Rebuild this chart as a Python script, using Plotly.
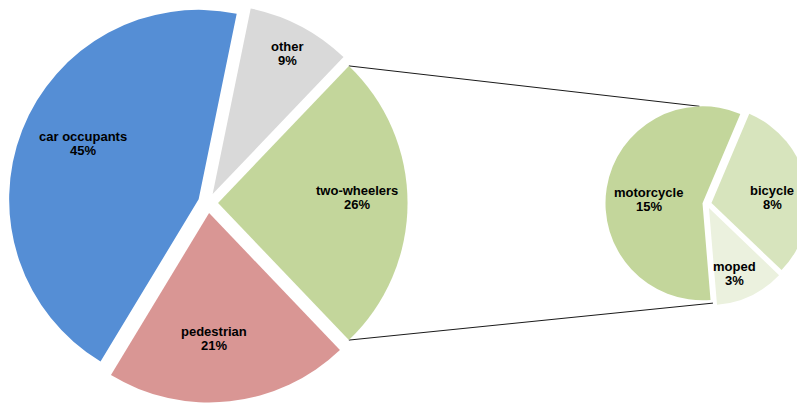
import math
import plotly.graph_objects as go

# ---- data ----
main_labels = ["other", "two-wheelers", "pedestrian", "car occupants"]
main_values = [9, 26, 21, 45]
main_text = ["9%", "26%", "21%", "45%"]
main_colors = ["#D9D9D9", "#C3D69B", "#D99694", "#558ED5"]

sub_labels = ["motorcycle", "bicycle", "moped"]
sub_values = [15, 8, 3]
sub_text = ["15%", "8%", "3%"]
sub_colors = ["#C3D69B", "#D7E4BD", "#EBF1DE"]

# ---- style / layout ----
W, H = 830, 403          # figure is wider than the 797 px window; the right edge is cropped like the original
main_center = (208.0, 203.0)
main_R = 189.5
main_pull = 0.053
main_label_frac = [0.84, 0.73, 0.66, 0.68]
main_label_nudge = [(1, 0), (1, -6), (-9, 1), (4, -9)]

sub_center = (707.0, 204.0)
sub_R = 97.0
sub_pull = 0.047
sub_rotation = 175.25
sub_label_frac = [0.56, 0.62, 0.73]
sub_label_nudge = [(0, 5), (2, 7), (-5, 1)]

FONT = "Arial, Liberation Sans, sans-serif"


def clamp(v):
    return max(0.0, min(1.0, v))


def domain_for(center, R, pull):
    cx, cy = center
    half = R * (1 + pull)
    dx = [clamp((cx - half) / W), clamp((cx + half) / W)]
    dy = [clamp(1 - (cy + half) / H), clamp(1 - (cy - half) / H)]
    return dx, dy


def actual_geom(dx, dy, pull):
    w = (dx[1] - dx[0]) * W
    h = (dy[1] - dy[0]) * H
    cx = (dx[0] + dx[1]) / 2 * W
    cy = (1 - (dy[0] + dy[1]) / 2) * H
    R = min(w, h) / (2 + 2 * pull)
    return (cx, cy), R


def slices(values, rotation):
    total = float(sum(values))
    a = rotation
    out = []
    for v in values:
        span = v / total * 360.0
        out.append((a, a + span / 2, a + span))
        a += span
    return out


def dvec(theta):
    t = math.radians(theta)
    return math.sin(t), -math.cos(t)


def to_paper(px, py):
    return px / W, 1 - py / H


# main rotation: two-wheelers centred pointing right (90 deg clockwise from north)
tot = float(sum(main_values))
main_rotation = 90.0 - (main_values[0] + main_values[1] / 2.0) / tot * 360.0

mdx, mdy = domain_for(main_center, main_R, main_pull)
sdx, sdy = domain_for(sub_center, sub_R, sub_pull)
(mcx, mcy), mR = actual_geom(mdx, mdy, main_pull)
(scx, scy), sR = actual_geom(sdx, sdy, sub_pull)

fig = go.Figure()
fig.add_trace(go.Pie(
    labels=main_labels, values=main_values, text=main_text,
    sort=False, direction="clockwise", rotation=main_rotation,
    pull=[main_pull] * len(main_values),
    marker=dict(colors=main_colors, line=dict(width=0)),
    textinfo="none", hoverinfo="label+text", showlegend=False,
    domain=dict(x=mdx, y=mdy),
))
fig.add_trace(go.Pie(
    labels=sub_labels, values=sub_values, text=sub_text,
    sort=False, direction="clockwise", rotation=sub_rotation,
    pull=[sub_pull] * len(sub_values),
    marker=dict(colors=sub_colors, line=dict(width=0)),
    textinfo="none", hoverinfo="label+text", showlegend=False,
    domain=dict(x=sdx, y=sdy),
))

annotations = []
shapes = []


def add_labels(center, R, pull, values, rotation, labels, texts, fracs, nudges):
    cx, cy = center
    geo = slices(values, rotation)
    centers = []
    for (a0, am, a1), lab, txt, f, (nx, ny) in zip(geo, labels, texts, fracs, nudges):
        ux, uy = dvec(am)
        sx, sy = cx + pull * R * ux, cy + pull * R * uy
        centers.append((sx, sy))
        lx, ly = sx + f * R * ux + nx, sy + f * R * uy + ny
        for s, off in ((lab, -7), (txt, 7)):
            x, y = to_paper(lx, ly + off)
            annotations.append(dict(
                x=x, y=y, xref="paper", yref="paper", text="<b>%s</b>" % s,
                showarrow=False, xanchor="center", yanchor="middle",
                font=dict(family=FONT, size=13, color="#000000"),
            ))
    return geo, centers


mgeo, mcent = add_labels((mcx, mcy), mR, main_pull, main_values, main_rotation,
                         main_labels, main_text, main_label_frac, main_label_nudge)
sgeo, scent = add_labels((scx, scy), sR, sub_pull, sub_values, sub_rotation,
                         sub_labels, sub_text, sub_label_frac, sub_label_nudge)

# connector lines from two-wheelers slice to the secondary pie
gi = main_labels.index("two-wheelers")
gx, gy = mcent[gi]
a0, am, a1 = mgeo[gi]
p_top = (gx + mR * dvec(a0)[0], gy + mR * dvec(a0)[1])
p_bot = (gx + mR * dvec(a1)[0], gy + mR * dvec(a1)[1])
q_top = (scent[0][0] - 3, scent[0][1] - sR)
q_bot = (scent[-1][0] + 4, scent[-1][1] + sR - 2)
for p, q in ((p_top, q_top), (p_bot, q_bot)):
    x0, y0 = to_paper(*p)
    x1, y1 = to_paper(*q)
    shapes.append(dict(type="line", xref="paper", yref="paper",
                       x0=x0, y0=y0, x1=x1, y1=y1,
                       line=dict(color="#1a1a1a", width=1), layer="below"))

fig.update_layout(
    width=W, height=H,
    margin=dict(l=0, r=0, t=0, b=0),
    paper_bgcolor="white", plot_bgcolor="white",
    annotations=annotations, shapes=shapes,
    showlegend=False,
)

fig.write_html(
    "out.html",
    config={"displayModeBar": False},
    post_script="document.body.style.margin='0';document.body.style.overflow='hidden';",
)
